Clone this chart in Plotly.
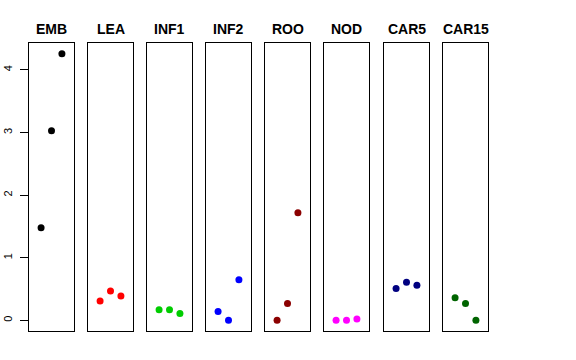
import plotly.graph_objects as go

categories = ["EMB", "LEA", "INF1", "INF2", "ROO", "NOD", "CAR5", "CAR15"]
series_values = {
    "EMB": [1.48, 3.03, 4.26],
    "LEA": [0.31, 0.47, 0.39],
    "INF1": [0.17, 0.17, 0.11],
    "INF2": [0.14, 0.00, 0.65],
    "ROO": [0.00, 0.27, 1.72],
    "NOD": [0.00, 0.00, 0.02],
    "CAR5": [0.51, 0.61, 0.56],
    "CAR15": [0.36, 0.27, 0.00],
}
replicates = [1, 2, 3]
colors = ["#000000", "#FF0000", "#00CD00", "#0000FF", "#8B0000", "#FF00FF", "#000080", "#006400"]
y_ticks = [0, 1, 2, 3, 4]

W, H = 576, 360
lefts = [29, 88, 147, 206, 265, 324, 384, 443]
pw = 45
top, bottom = 43, 331

fig = go.Figure()
layout = dict(width=W, height=H, margin=dict(l=0, r=0, t=0, b=0, autoexpand=False),
              plot_bgcolor="white", paper_bgcolor="white", showlegend=False,
              font=dict(family="Liberation Sans, Arial, sans-serif", color="black"))
annotations = []
ymax = max(max(v) for v in series_values.values())
ymin = 0
ext = (ymax - ymin) * 0.04
for i, cat in enumerate(categories):
    n = "" if i == 0 else str(i + 1)
    fig.add_trace(go.Scatter(x=replicates, y=series_values[cat], mode="markers",
                             marker=dict(color=colors[i], size=7),
                             xaxis="x" + n, yaxis="y" + n, hoverinfo="skip"))
    x0 = lefts[i] / W
    x1 = (lefts[i] + pw) / W
    layout["xaxis" + n] = dict(domain=[x0, x1], range=[-0.16, 4.16], showgrid=False,
                               zeroline=False, showticklabels=False, ticks="",
                               showline=True, mirror=True, linecolor="black", linewidth=1,
                               anchor="y" + n, automargin=False)
    yax = dict(domain=[(H - bottom) / H, (H - top) / H], range=[ymin - ext, ymax + ext],
               showgrid=False, zeroline=False, showline=True, mirror=True,
               linecolor="black", linewidth=1, anchor="x" + n, automargin=False)
    if i == 0:
        yax.update(tickvals=y_ticks, ticktext=[str(t) for t in y_ticks], ticks="outside",
                   ticklen=8, tickcolor="black", tickangle=-90,
                   tickfont=dict(size=11, color="black"), ticklabelstandoff=4)
    else:
        yax.update(showticklabels=False, ticks="")
    layout["yaxis" + n] = yax
    annotations.append(dict(text="<b>" + cat + "</b>", x=(lefts[i] + pw / 2) / W,
                            y=(H - 29) / H, xref="paper", yref="paper", showarrow=False,
                            xanchor="center", yanchor="middle",
                            font=dict(size=14, color="black")))
layout["annotations"] = annotations
fig.update_layout(**layout)
fig.write_html("out.html", config={"displayModeBar": False},
               post_script="document.body.style.margin='0px';")
